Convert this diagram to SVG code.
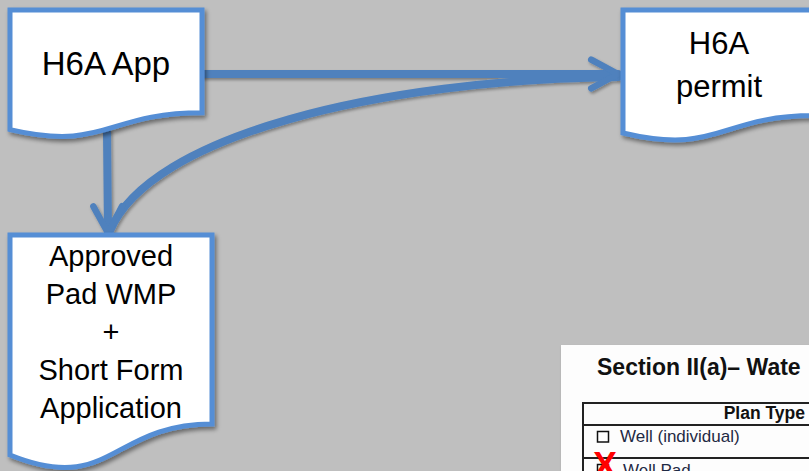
<svg xmlns="http://www.w3.org/2000/svg" width="809" height="471" viewBox="0 0 809 471">
<defs>
<filter id="sh" filterUnits="userSpaceOnUse" x="0" y="0" width="809" height="471">
<feDropShadow dx="2" dy="3" stdDeviation="2" flood-color="#000" flood-opacity="0.45"/>
</filter>
<filter id="shl" filterUnits="userSpaceOnUse" x="0" y="0" width="809" height="471">
<feDropShadow dx="1.5" dy="2" stdDeviation="1.5" flood-color="#000" flood-opacity="0.35"/>
</filter>
<marker id="chev" viewBox="0 0 10 10" refX="9" refY="5" markerWidth="5" markerHeight="5" markerUnits="strokeWidth" orient="auto">
<path d="M2.3 1.4 L9 5 L2.3 8.6" fill="none" stroke="#4F81BD" stroke-width="1.6" stroke-linecap="round" stroke-linejoin="round"/>
</marker>
</defs>
<style>
.doc{fill:#fff;stroke:#558ED5;stroke-width:5;filter:url(#sh)}
.t{font-family:"Liberation Sans",Arial,sans-serif;fill:#000;text-anchor:middle}
.c{fill:none;stroke:#4F81BD;stroke-width:8;stroke-linecap:round}
.tb{stroke:#222;stroke-width:2;fill:none}
</style>
<rect width="809" height="471" fill="#BFBFBF"/>

<g id="connectors" filter="url(#shl)">
<path class="c" d="M618 77 C380 80 150 135 110 231"/>
<path class="c" d="M202 74 L618 74" marker-end="url(#chev)"/>
<path class="c" d="M107 132 L108 233" marker-end="url(#chev)"/>
</g>

<g id="h6a-app">
<path class="doc" d="M10 10 H202 V112.7 C106 112.7 106 151.8 10 129.6 Z"/>
<text class="t" x="106" y="75" font-size="33">H6A App</text>
</g>

<g id="h6a-permit">
<path class="doc" d="M623 10 H815 V115.6 C719 115.6 719 155.8 623 133 Z"/>
<text class="t" x="719" y="54" font-size="31">H6A</text>
<text class="t" x="719" y="97" font-size="31">permit</text>
</g>

<g id="approved">
<path class="doc" d="M10 235 H212 V423.9 C111 423.9 111 495.8 10 455 Z"/>
<text class="t" x="111" y="266" font-size="29">Approved</text>
<text class="t" x="111" y="304" font-size="29">Pad WMP</text>
<text class="t" x="111" y="342" font-size="29">+</text>
<text class="t" x="111" y="380" font-size="29">Short Form</text>
<text class="t" x="111" y="418" font-size="29">Application</text>
</g>

<g id="form-excerpt">
<rect x="561" y="345" width="260" height="140" fill="#FDFDFD" filter="url(#shl)"/>
<text x="597" y="375" font-family="'Liberation Sans',Arial,sans-serif" font-size="23" font-weight="bold" fill="#111">Section II(a)– Wate</text>
<path class="tb" d="M583 475 V403 H815 M583 425 H815 M583 458 H815"/>
<text x="805" y="419" font-family="'Liberation Sans',Arial,sans-serif" font-size="17.5" font-weight="bold" fill="#111" text-anchor="end">Plan Type</text>
<rect x="597.5" y="431.5" width="11" height="10.5" fill="#fff" stroke="#111" stroke-width="1.5"/>
<text x="620" y="442" font-family="'Liberation Sans',Arial,sans-serif" font-size="17" fill="#1f2a44">Well (individual)</text>
<rect x="597.5" y="464.5" width="11" height="10.5" fill="#fff" stroke="#111" stroke-width="1.5"/>
<text x="623" y="476" font-family="'Liberation Sans',Arial,sans-serif" font-size="17" fill="#1f2a44">Well Pad</text>
<text x="605" y="478" font-family="'Liberation Sans',Arial,sans-serif" font-size="36" font-weight="bold" fill="#FF0000" text-anchor="middle">X</text>
</g>
</svg>
